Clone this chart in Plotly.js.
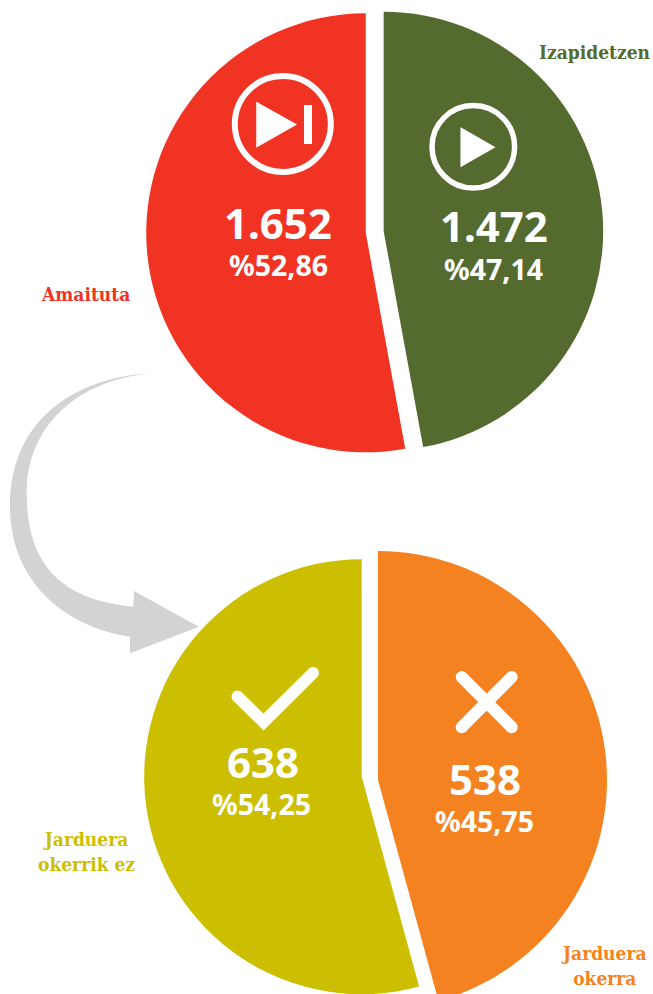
<!DOCTYPE html>
<html><head><meta charset="utf-8">
<script src="https://cdn.plot.ly/plotly-3.0.1.min.js"></script>
<style>html,body{margin:0;padding:0;background:#fff;overflow:hidden;width:653px;height:994px}#c{width:653px;height:1030px}</style>
</head><body><div id="c"></div>
<script>
// Data
const topLabels = ['Izapidetzen', 'Amaituta'];
const topValues = [1472, 1652];
const topColors = ['#546A2E', '#F13323'];
const topCounts = ['1.472', '1.652'];
const topShares = ['%47,14', '%52,86'];
const bottomLabels = ['Jarduera okerra', 'Jarduera okerrik ez'];
const bottomValues = [538, 638];
const bottomColors = ['#F58220', '#CCBE00'];
const bottomCounts = ['538', '638'];
const bottomShares = ['%45,75', '%54,25'];

const W = 653, H = 1030;
const px = x => x / W, py = y => 1 - y / H;
const NUM = '"Noto Sans", sans-serif';
const SERIF = '"DejaVu Serif Condensed", "DejaVu Serif", serif';
const clear = 'rgba(0,0,0,0)';

function domain(cx, cy, r, pull) {
  const half = r * (1 + pull);
  return {x: [px(cx - half), px(cx + half)], y: [py(cy + half), py(cy - half)]};
}
function pie(labels, values, colors, dom, pull) {
  return {type: 'pie', labels, values, sort: false, direction: 'clockwise', rotation: 0,
    marker: {colors, line: {width: 0}}, textinfo: 'none', hoverinfo: 'label+value+percent',
    showlegend: false, pull, domain: dom};
}
const topPull = 0.041;
const traces = [
  pie(topLabels, topValues, topColors, domain(374.7, 232, 219.5, topPull), topPull),
  pie(bottomLabels, bottomValues, [bottomColors[0], clear], domain(378, 780, 229, 0), 0),
  pie(bottomLabels, bottomValues, [clear, bottomColors[1]], domain(361.7, 776.7, 217.5, 0), 0)
];

function note(text, x, y, size, color, family, bold) {
  return {text: bold ? '<b>' + text + '</b>' : text, x: px(x), y: py(y), xref: 'paper', yref: 'paper',
    xanchor: 'center', yanchor: 'middle', showarrow: false, align: 'center',
    font: {size, color, family}};
}
const annotations = [
  note(topCounts[1], 277.5, 222, 42, '#fff', NUM, true),
  note(topShares[1], 278, 265, 28.5, '#fff', NUM, true),
  note(topCounts[0], 494, 225, 42, '#fff', NUM, true),
  note(topShares[0], 493, 269, 28.5, '#fff', NUM, true),
  note(bottomCounts[1], 262.5, 761, 42, '#fff', NUM, true),
  note(bottomShares[1], 261, 804, 28.5, '#fff', NUM, true),
  note(bottomCounts[0], 485, 778, 42, '#fff', NUM, true),
  note(bottomShares[0], 484, 821, 28.5, '#fff', NUM, true),
  note(topLabels[1], 85.5, 294, 19, topColors[1], SERIF, true),
  note(topLabels[0], 595, 52, 19, topColors[0], SERIF, true),
  note('Jarduera<br>okerrik ez', 86, 851, 19, bottomColors[1], SERIF, true),
  note('Jarduera<br>okerra', 604, 965, 19, bottomColors[0], SERIF, true)
];

// Decorations, in page pixels
function path(cmds, fill, line) {
  const d = cmds.map(c => c[0] + c.slice(1).map((v, i) => i % 2 ? py(v) : px(v)).join(' ')).join(' ');
  return {type: 'path', xref: 'paper', yref: 'paper', path: d, fillcolor: fill || clear, layer: 'above',
    line: line ? {color: '#fff', width: line} : {width: 0}};
}
function circle(x, y, r, fill, line) {
  return {type: 'circle', xref: 'paper', yref: 'paper', x0: px(x - r), x1: px(x + r), y0: py(y + r), y1: py(y - r),
    fillcolor: fill || clear, layer: 'above', line: line ? {color: '#fff', width: line} : {width: 0}};
}
const a = (x, y) => [x / 3, 360 + y / 3];
const arrow = [
  ['M', ...a(455, 40)],
  ['C', ...a(250, 50), ...a(30, 160), ...a(30, 440)],
  ['C', ...a(30, 660), ...a(190, 800), ...a(390, 830)],
  ['L', ...a(390, 880)], ['L', ...a(597, 800)], ['L', ...a(402, 693)], ['L', ...a(400, 740)],
  ['C', ...a(190, 720), ...a(80, 620), ...a(80, 400)],
  ['C', ...a(80, 200), ...a(230, 60), ...a(455, 40)],
  ['Z']
];
const shapes = [
  path(arrow, '#D1D3D4'),
  circle(282.8, 124, 48, null, 6),
  path([['M', 257, 103], ['L', 295.5, 124.5], ['L', 257, 146.5], ['Z']], '#fff', 1.5),
  path([['M', 304, 105], ['L', 312, 105], ['L', 312, 144], ['L', 304, 144], ['Z']], '#fff'),
  circle(473.3, 146.8, 41.3, null, 5.5),
  path([['M', 461.2, 128.5], ['L', 494, 147.2], ['L', 461.2, 166], ['Z']], '#fff', 1.5),
  // check mark
  path([['M', 237.5, 696.5], ['L', 263.5, 722], ['L', 313, 673]], null, 12),
  circle(237.5, 696.5, 6, '#fff'), circle(313, 673, 6, '#fff'),
  // cross
  path([['M', 461.7, 677], ['L', 511.7, 727.3]], null, 12),
  path([['M', 511.7, 677], ['L', 461.7, 727.3]], null, 12),
  circle(461.7, 677, 6, '#fff'), circle(511.7, 677, 6, '#fff'),
  circle(461.7, 727.3, 6, '#fff'), circle(511.7, 727.3, 6, '#fff')
];

Plotly.newPlot('c', traces, {
  width: W, height: H, margin: {l: 0, r: 0, t: 0, b: 0},
  paper_bgcolor: '#fff', plot_bgcolor: '#fff', showlegend: false,
  annotations, shapes
}, {displayModeBar: false, staticPlot: true});
</script></body></html>
